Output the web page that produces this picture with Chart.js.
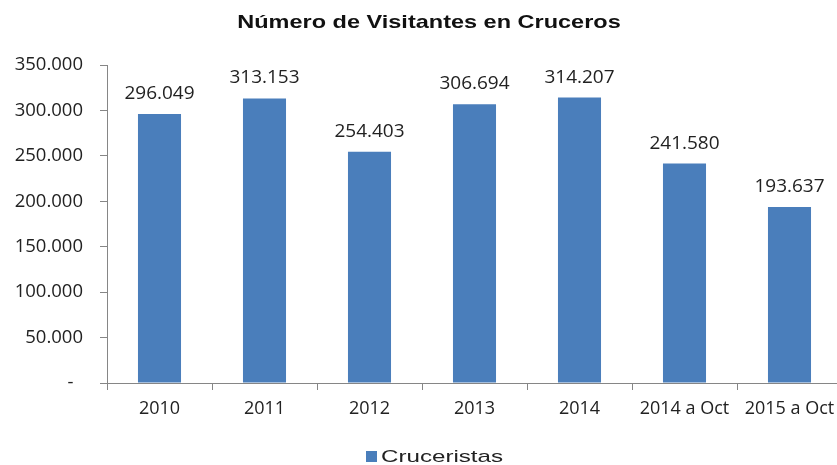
<!DOCTYPE html>
<html>
<head>
<meta charset="utf-8">
<script src="https://cdn.jsdelivr.net/npm/chart.js@4"></script>
<style>
    html, body { margin: 0; padding: 0; background: #fff; overflow: hidden; }
    #wrap { width: 852px; height: 465px; }
</style>
</head>
<body>
<div id="wrap"><canvas id="chartCanvas"></canvas></div>
<script>
const years = ['2010', '2011', '2012', '2013', '2014', '2014 a Oct', '2015 a Oct'];
const cruceristas = [296049, 313153, 254403, 306694, 314207, 241580, 193637];
const yTicks = [0, 50000, 100000, 150000, 200000, 250000, 300000, 350000];

const chartTitle = 'Número de Visitantes en Cruceros';
const seriesName = 'Cruceristas';
const barColor = '#4A7EBB';

// 296049 -> "296.049", 0 -> "-" (with trailing room like the accounting format)
function fmt(v) {
    if (v === 0) return '-  ';
    return String(v).replace(/\B(?=(\d{3})+(?!\d))/g, '.');
}

const bodyFont = "'Open Sans', 'DejaVu Sans', sans-serif";
const headFont = "'Liberation Sans', Arial, sans-serif";

// value above every bar
const valueLabels = {
    id: 'valueLabels',
    afterDatasetsDraw(chart) {
        const ctx = chart.ctx;
        ctx.save();
        ctx.font = '19px ' + bodyFont;
        ctx.fillStyle = '#222';
        ctx.textAlign = 'center';
        ctx.textBaseline = 'alphabetic';
        chart.getDatasetMeta(0).data.forEach((bar, i) => {
            ctx.fillText(fmt(cruceristas[i]), bar.x, bar.y - 15);
        });
        ctx.restore();
    }
};

// wide bold title and the legend line underneath, drawn by hand
const headAndKey = {
    id: 'headAndKey',
    afterDraw(chart) {
        const ctx = chart.ctx;
        ctx.save();
        ctx.fillStyle = '#111';
        ctx.textBaseline = 'alphabetic';

        ctx.font = 'bold 18.5px ' + headFont;
        ctx.textAlign = 'center';
        ctx.translate(429, 28);
        ctx.scale(1.27, 1);
        ctx.fillText(chartTitle, 0, 0);
        ctx.setTransform(1, 0, 0, 1, 0, 0);

        ctx.fillStyle = barColor;
        ctx.fillRect(366, 451, 11, 11);

        ctx.fillStyle = '#222';
        ctx.font = '17px ' + headFont;
        ctx.textAlign = 'left';
        ctx.translate(381, 462);
        ctx.scale(1.42, 1);
        ctx.fillText(seriesName, 0, 0);
        ctx.restore();
    }
};

const ctx = document.getElementById('chartCanvas').getContext('2d');
new Chart(ctx, {
    type: 'bar',
    data: {
        labels: years,
        datasets: [{
            label: seriesName,
            data: cruceristas,
            backgroundColor: barColor,
            categoryPercentage: 1.0,
            barPercentage: 0.41
        }]
    },
    plugins: [valueLabels, headAndKey],
    options: {
        responsive: true,
        maintainAspectRatio: false,
        animation: false,
        layout: { padding: { left: 0, right: 10, top: 65, bottom: 0 } },
        plugins: {
            title: { display: false },
            legend: { display: false },
            tooltip: { enabled: false }
        },
        scales: {
            x: {
                afterFit(axis) { axis.height = 82; },
                grid: { drawOnChartArea: false, color: '#868686', tickLength: 7, offset: true },
                border: { color: '#868686' },
                ticks: { color: '#222', font: { family: bodyFont, size: 18 }, padding: 8, maxRotation: 0, autoSkip: false }
            },
            y: {
                min: 0,
                max: 350000,
                afterBuildTicks(axis) {
                    axis.ticks = yTicks.map(v => ({ value: v }));
                },
                afterFit(axis) { axis.width = 107; },
                grid: { drawOnChartArea: false, color: '#868686', tickLength: 7 },
                border: { color: '#868686' },
                ticks: {
                    color: '#222',
                    font: { family: bodyFont, size: 18.5 },
                    padding: 17,
                    callback: (v) => fmt(v)
                }
            }
        }
    }
});
</script>
</body>
</html>
